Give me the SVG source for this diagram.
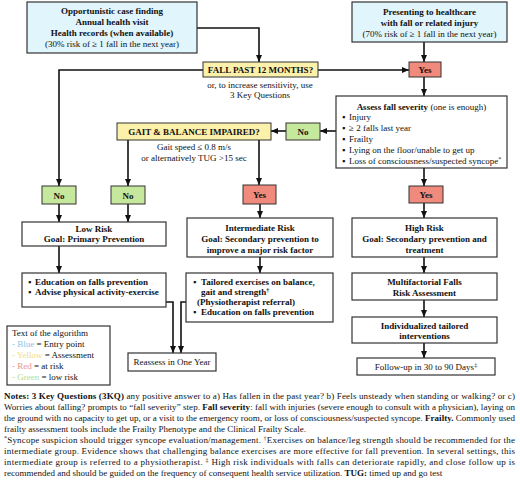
<svg xmlns="http://www.w3.org/2000/svg" width="520" height="485" viewBox="0 0 520 485">
<defs>
<marker id="ah" markerWidth="7" markerHeight="6" refX="7" refY="3" orient="auto" markerUnits="userSpaceOnUse">
<path d="M0,0 L7,3 L0,6 Z" fill="#111"/>
</marker>
<style>
text{font-family:"Liberation Serif","Times New Roman",serif;font-size:9px;fill:#111}
.b{font-weight:bold}
.c{text-anchor:middle}
.box{fill:#fff;stroke:#333;stroke-width:1.2}
.blue{fill:#e1f5fc;stroke:#333;stroke-width:1.2}
.yel{fill:#fcf1aa;stroke:#333;stroke-width:1}
.red{fill:#ef8a7c;stroke:#333;stroke-width:1}
.grn{fill:#c6e89c;stroke:#333;stroke-width:1}
.ln{fill:none;stroke:#111;stroke-width:1.6}
.ar{fill:none;stroke:#111;stroke-width:1.6;marker-end:url(#ah)}
</style>
</defs>
<rect width="520" height="485" fill="#fff"/>

<g id="connectors">
<path class="ar" d="M197,28 H259 V62"/>
<path class="ar" d="M318,70 H409"/>
<path class="ar" d="M424,42 V62"/>
<path class="ar" d="M424,77 V96"/>
<path class="ar" d="M336,131 H320"/>
<path class="ar" d="M286,131 H271"/>
<path class="ar" d="M203,70 H59 V186"/>
<path class="ar" d="M128,140 V186"/>
<path class="ar" d="M259,140 V185"/>
<path class="ar" d="M59,204 V222"/>
<path class="ar" d="M128,204 V222"/>
<path class="ar" d="M59,246 V273"/>
<path class="ar" d="M260,204 V218"/>
<path class="ar" d="M260,257 V273"/>
<path class="ar" d="M166,302 H173 V353"/>
<path class="ar" d="M186,302 H181 V353"/>
<path class="ar" d="M424,168 V186"/>
<path class="ar" d="M424,203 V218"/>
<path class="ar" d="M424,257 V273"/>
<path class="ar" d="M424,300 V317"/>
<path class="ar" d="M424,343 V358"/>
</g>

<g id="entry-opportunistic">
<rect class="blue" x="27" y="2" width="170" height="51"/>
<text class="b c" x="112" y="14">Opportunistic case finding</text>
<text class="b c" x="112" y="25">Annual health visit</text>
<text class="b c" x="112" y="36">Health records (when available)</text>
<text class="c" x="112" y="47">(30% risk of  ≥ 1 fall in the next year)</text>
</g>

<g id="entry-presenting">
<rect class="blue" x="352" y="2" width="155" height="40"/>
<text class="b c" x="429.5" y="15">Presenting to healthcare</text>
<text class="b c" x="429.5" y="26">with fall or related injury</text>
<text class="c" x="429.5" y="37">(70% risk of  ≥ 1 fall in the next year)</text>
</g>

<g id="fall-past">
<rect class="yel" x="203" y="62" width="115" height="15"/>
<text class="b c" x="260.5" y="73">FALL PAST 12 MONTHS?</text>
<text class="c" x="260" y="88">or, to increase sensitivity, use</text>
<text class="c" x="260" y="98">3 Key Questions</text>
</g>

<g id="yes-top">
<rect class="red" x="409" y="62" width="32" height="15"/>
<text class="b c" x="425" y="73">Yes</text>
</g>

<g id="assess">
<rect class="box" x="336" y="96" width="171" height="72"/>
<text class="c" x="421.5" y="110"><tspan class="b">Assess fall severity</tspan> (one is enough)</text>
<text x="342" y="120">▪</text><text x="349" y="120">Injury</text>
<text x="342" y="131">▪</text><text x="349" y="131">≥ 2 falls last year</text>
<text x="342" y="142">▪</text><text x="349" y="142">Frailty</text>
<text x="342" y="153">▪</text><text x="349" y="153">Lying on the floor/unable to get up</text>
<text x="342" y="164">▪</text><text x="349" y="164">Loss of consciousness/suspected syncope<tspan font-size="6" dy="-3">*</tspan></text>
</g>

<g id="no-assess">
<rect class="grn" x="286" y="123" width="34" height="17"/>
<text class="b c" x="303" y="135">No</text>
</g>

<g id="gait">
<rect class="yel" x="117" y="123" width="154" height="17"/>
<text class="b c" x="194" y="135">GAIT &amp; BALANCE IMPAIRED?</text>
<text class="c" x="194" y="150">Gait speed ≤ 0.8 m/s</text>
<text class="c" x="194" y="161">or alternatively TUG &gt;15 sec</text>
</g>

<g id="no-fall">
<rect class="grn" x="42" y="186" width="34" height="18"/>
<text class="b c" x="59" y="198.5">No</text>
</g>

<g id="no-gait">
<rect class="grn" x="111" y="186" width="34" height="18"/>
<text class="b c" x="128" y="198.5">No</text>
</g>

<g id="yes-gait">
<rect class="red" x="243" y="185" width="33" height="19"/>
<text class="b c" x="259.5" y="198">Yes</text>
</g>

<g id="yes-severity">
<rect class="red" x="409" y="186" width="34" height="17"/>
<text class="b c" x="426" y="198">Yes</text>
</g>

<g id="low-risk">
<rect class="box" x="22" y="222" width="144" height="24"/>
<text class="b c" x="94" y="231.5">Low Risk</text>
<text class="b c" x="94" y="242">Goal:  Primary Prevention</text>
</g>

<g id="low-actions">
<rect class="box" x="22" y="273" width="144" height="34"/>
<text class="b" x="28" y="285">▪</text><text class="b" x="35" y="285">Education on falls prevention</text>
<text class="b" x="28" y="295">▪</text><text class="b" x="35" y="295">Advise physical activity-exercise</text>
</g>

<g id="intermediate-risk">
<rect class="box" x="187" y="218" width="146" height="39"/>
<text class="b c" x="260" y="231">Intermediate  Risk</text>
<text class="b c" x="260" y="242">Goal: Secondary prevention to</text>
<text class="b c" x="260" y="252.5">improve a major risk factor</text>
</g>

<g id="intermediate-actions">
<rect class="box" x="186" y="273" width="147" height="49"/>
<text class="b" x="193" y="285">▪</text><text class="b" x="201" y="285">Tailored exercises on balance,</text>
<text class="b" x="201" y="295">gait and strength<tspan font-size="6" dy="-3">†</tspan></text>
<text class="b" x="197" y="304.5">(Physiotherapist referral)</text>
<text class="b" x="193" y="314.5">▪</text><text class="b" x="201" y="314.5">Education on falls prevention</text>
</g>

<g id="reassess">
<rect class="box" x="128" y="353" width="88" height="18"/>
<text class="c" x="172" y="365">Reassess in One Year</text>
</g>

<g id="high-risk">
<rect class="box" x="352" y="218" width="145" height="39"/>
<text class="b c" x="424.5" y="231">High Risk</text>
<text class="b c" x="424.5" y="242">Goal: Secondary prevention and</text>
<text class="b c" x="424.5" y="252.5">treatment</text>
</g>

<g id="multifactorial">
<rect class="box" x="352" y="273" width="145" height="27"/>
<text class="b c" x="424.5" y="285">Multifactorial Falls</text>
<text class="b c" x="424.5" y="295.5">Risk Assessment</text>
</g>

<g id="individualized">
<rect class="box" x="352" y="317" width="145" height="26"/>
<text class="b c" x="424.5" y="328.5">Individualized tailored</text>
<text class="b c" x="424.5" y="339">interventions</text>
</g>

<g id="follow-up">
<rect class="box" x="357" y="358" width="138" height="17"/>
<text class="c" x="426" y="370">Follow-up in 30 to 90 Days<tspan font-size="6" dy="-3">‡</tspan></text>
</g>

<g id="legend">
<rect class="box" x="7" y="326" width="103" height="59"/>
<text x="12" y="336">Text of the algorithm</text>
<text x="12" y="347"><tspan fill="#87c6e6"> - Blue</tspan> = Entry point</text>
<text x="12" y="358"><tspan fill="#efe07a"> - Yellow</tspan> = Assessment</text>
<text x="12" y="369"><tspan fill="#e9968a"> - Red</tspan> = at risk</text>
<text x="12" y="380"><tspan fill="#b5de8a"> - Green</tspan> = low risk</text>
</g>

<g id="notes">
<text x="4" y="399" textLength="511" lengthAdjust="spacing"><tspan class="b">Notes: 3 Key Questions (3KQ)</tspan> any positive answer to a) Has fallen in the past year? b) Feels unsteady when standing or walking? or c)</text>
<text x="4" y="410" textLength="511" lengthAdjust="spacing">Worries about falling? prompts to “fall severity” step. <tspan class="b">Fall severity</tspan>: fall with injuries (severe enough to consult with a physician), laying on</text>
<text x="4" y="421" textLength="511" lengthAdjust="spacing">the ground with no capacity to get up, or a visit to the emergency room, or loss of consciousness/suspected syncope. <tspan class="b">Frailty.</tspan> Commonly used</text>
<text x="4" y="432">frailty assessment tools include the Frailty Phenotype and the Clinical Frailty Scale.</text>
<text x="4" y="443" textLength="511" lengthAdjust="spacing"><tspan font-size="6" dy="-3">*</tspan><tspan dy="3">Syncope suspicion should trigger syncope evaluation/management. </tspan><tspan font-size="6" dy="-3">†</tspan><tspan dy="3">Exercises on balance/leg strength should be recommended for the</tspan></text>
<text x="4" y="454" textLength="511" lengthAdjust="spacing">intermediate group. Evidence shows that challenging balance exercises are more effective for fall prevention. In several settings, this</text>
<text x="4" y="465" textLength="511" lengthAdjust="spacing">intermediate group is referred to a physiotherapist. <tspan font-size="6" dy="-3">‡</tspan><tspan dy="3"> High risk individuals with falls can deteriorate rapidly, and close follow up is</tspan></text>
<text x="4" y="476">recommended and should be guided on the frequency of consequent health service utilization. <tspan class="b">TUG:</tspan> timed up and go test</text>
</g>
</svg>
